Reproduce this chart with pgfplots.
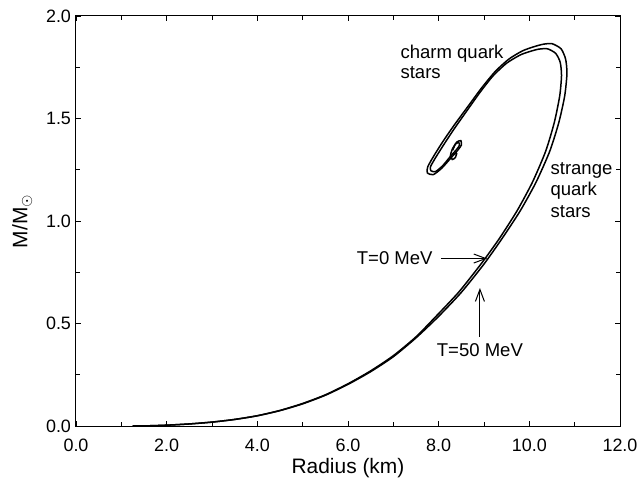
\documentclass[border=0pt]{standalone}
\usepackage{fontspec}
\setmainfont{Liberation Sans}
\usepackage{pgfplots}
\pgfplotsset{compat=1.18}
\usetikzlibrary{arrows.meta}

% mass-radius curves, T=0 (outer) and T=50 MeV (inner)
\pgfplotstableread{
r m
1.25 0.000
1.60 0.001
2.00 0.004
2.50 0.010
3.00 0.019
3.50 0.032
4.00 0.050
4.50 0.075
5.00 0.108
5.50 0.150
6.00 0.203
6.50 0.265
7.00 0.338
7.50 0.430
8.00 0.535
8.50 0.652
9.00 0.790
9.40 0.915
9.80 1.050
10.15 1.190
10.45 1.340
10.65 1.480
10.78 1.610
10.83 1.720
10.80 1.790
10.70 1.840
10.50 1.865
10.30 1.862
10.10 1.850
9.85 1.830
9.55 1.790
9.25 1.730
8.95 1.650
8.65 1.560
8.35 1.470
8.10 1.390
7.90 1.320
7.76 1.265
7.75 1.235
7.88 1.226
8.07 1.258
8.28 1.310
8.42 1.345
8.50 1.370
8.49 1.392
8.40 1.385
8.30 1.350
8.26 1.318
8.30 1.300
8.37 1.310
8.40 1.332
}\tzero

\pgfplotstableread{
r m
1.25 0.000
1.60 0.001
2.00 0.004
2.50 0.010
3.00 0.019
3.50 0.032
4.00 0.050
4.50 0.076
5.00 0.110
5.50 0.152
6.00 0.206
6.50 0.269
7.00 0.343
7.50 0.435
7.95 0.537
8.45 0.655
8.95 0.795
9.34 0.915
9.73 1.050
10.07 1.190
10.36 1.340
10.55 1.480
10.67 1.610
10.71 1.710
10.68 1.775
10.58 1.818
10.40 1.840
10.20 1.838
10.00 1.826
9.80 1.810
9.50 1.770
9.20 1.708
8.92 1.630
8.63 1.540
8.35 1.452
8.12 1.375
7.94 1.312
7.82 1.265
7.83 1.245
7.93 1.241
8.09 1.270
8.27 1.318
8.40 1.350
8.46 1.370
8.44 1.383
8.37 1.375
8.31 1.345
}\tfifty

\begin{document}
\begin{tikzpicture}
\begin{axis}[
  scale only axis,
  width=272bp, height=205bp,
  xmin=0, xmax=12, ymin=0, ymax=2,
  xtick={0,2,...,12}, ytick={0,0.5,...,2},
  minor x tick num=1, minor y tick num=1,
  major tick length=2.5bp, minor tick length=1.8bp,
  axis line style={line width=0.5bp},
  every tick/.style={black, line width=0.4bp},
  tick label style={font=\fontsize{9}{10}\selectfont},
  xticklabel style={yshift=-3bp},
  yticklabel style={xshift=1bp},
  /pgf/number format/.cd, fixed, fixed zerofill, precision=1, assume math mode=true,
  /pgfplots/.cd,
  xlabel={Radius (km)},
  ylabel={M/M$_{\odot}$},
  every axis x label/.style={at={(axis description cs:0.5,-0.102)}, anchor=center,
    font=\fontsize{10.5}{12}\selectfont},
  every axis y label/.style={at={(axis description cs:-0.099,0.5)}, rotate=90, anchor=center,
    font=\fontsize{10.5}{12}\selectfont},
]
\addplot[black, line width=0.75bp, smooth, tension=0.4] table[x=r, y=m] {\tzero};
\addplot[black, line width=0.75bp, smooth, tension=0.4] table[x=r, y=m] {\tfifty};

\node[anchor=west, align=left, inner sep=0, font=\fontsize{9.3}{10}\selectfont]
  at (axis cs:7.15,1.776) {charm quark\\stars};
\node[anchor=west, align=left, inner sep=0, font=\fontsize{9.3}{10.8}\selectfont]
  at (axis cs:10.46,1.151) {strange\\quark\\stars};
\node[anchor=east, inner sep=0, font=\fontsize{9.3}{10}\selectfont]
  at (axis cs:7.875,0.82) {T=0 MeV};
\node[anchor=center, inner sep=0, font=\fontsize{9.3}{10}\selectfont]
  at (axis cs:8.91,0.37) {T=50 MeV};
\draw[-{Straight Barb[length=6bp,width=4.5bp]}, line width=0.5bp]
  (axis cs:8.05,0.817) -- (axis cs:9.07,0.817);
\draw[-{Straight Barb[length=6bp,width=4.5bp]}, line width=0.5bp]
  (axis cs:8.91,0.435) -- (axis cs:8.91,0.673);
\end{axis}
\pgfresetboundingbox
\path (current axis.south west) ++(-38bp,-31bp) rectangle ([xshift=9.5bp,yshift=8bp]current axis.north east);
\end{tikzpicture}
\end{document}
